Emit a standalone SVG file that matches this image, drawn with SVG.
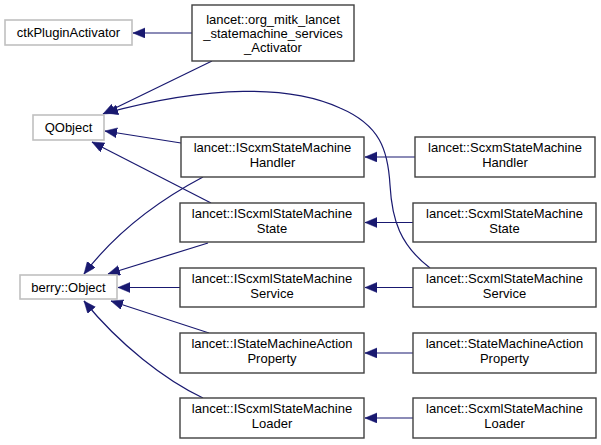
<svg xmlns="http://www.w3.org/2000/svg" width="601" height="445" viewBox="0 0 601 445">
<style>
.n rect{fill:#fff;stroke:#404040;stroke-width:1.4}
.g rect{fill:#fff;stroke:#c0c0c0;stroke-width:1.6}
text{font-family:"Liberation Sans",Arial,sans-serif;font-size:13px;fill:#000;text-anchor:middle}
.e path{fill:none;stroke:#191970;stroke-width:1.2;marker-end:url(#a)}
</style>
<defs>
<marker id="a" markerUnits="userSpaceOnUse" markerWidth="14" markerHeight="12" viewBox="0 0 14 12" refX="12" refY="5" orient="auto">
<path d="M0,0 L12,5 L0,10 z" fill="#191970" stroke="#191970" stroke-width="0.5"/>
</marker>
</defs>
<rect width="601" height="445" fill="#fff"/>
<g class="e" id="edges">
<path d="M192,33 L133,33"/>
<path d="M212,61 L103,114"/>
<path d="M430,268 C400,245 392,220 390,185 C388,150 380,125 340,108 C290,85 210,85 106,113"/>
<path d="M181,143 L105,131"/>
<path d="M211,203 L92,142"/>
<path d="M203,177 C150,205 110,240 84,274"/>
<path d="M208,243 L108,274"/>
<path d="M180,287.5 L118,287.5"/>
<path d="M209,333 L111,301"/>
<path d="M203,398 C165,380 120,345 84,301"/>
<path d="M415,157 L365,157"/>
<path d="M413,222.5 L365,222.5"/>
<path d="M413,287.5 L365,287.5"/>
<path d="M413,353 L365,353"/>
<path d="M413,418 L365,418"/>
</g>
<g id="ctkPluginActivator" class="g"><rect x="5" y="20" width="127" height="25"/><text x="68.5" y="37">ctkPluginActivator</text></g>
<g id="Activator" class="n"><rect x="192" y="5" width="162" height="56"/><text x="273" y="24">lancet::org_mitk_lancet</text><text x="273" y="38">_statemachine_services</text><text x="273" y="52">_Activator</text></g>
<g id="QObject" class="g"><rect x="33" y="115" width="71" height="25"/><text x="68.5" y="132">QObject</text></g>
<g id="berryObject" class="g"><rect x="20" y="275" width="97" height="24"/><text x="68.5" y="292">berry::Object</text></g>
<g id="IScxmStateMachineHandler" class="n"><rect x="181" y="137" width="183" height="40"/><text x="272.5" y="152">lancet::IScxmStateMachine</text><text x="272.5" y="167">Handler</text></g>
<g id="ScxmStateMachineHandler" class="n"><rect x="415" y="137" width="180" height="40"/><text x="505" y="152">lancet::ScxmStateMachine</text><text x="505" y="167">Handler</text></g>
<g id="IScxmlStateMachineState" class="n"><rect x="180" y="203" width="184" height="39"/><text x="272" y="218">lancet::IScxmlStateMachine</text><text x="272" y="233">State</text></g>
<g id="ScxmlStateMachineState" class="n"><rect x="413" y="203" width="183" height="39"/><text x="504.5" y="218">lancet::ScxmlStateMachine</text><text x="504.5" y="233">State</text></g>
<g id="IScxmlStateMachineService" class="n"><rect x="180" y="268" width="184" height="39"/><text x="272" y="283">lancet::IScxmlStateMachine</text><text x="272" y="298">Service</text></g>
<g id="ScxmlStateMachineService" class="n"><rect x="413" y="268" width="183" height="39"/><text x="504.5" y="283">lancet::ScxmlStateMachine</text><text x="504.5" y="298">Service</text></g>
<g id="IStateMachineActionProperty" class="n"><rect x="180" y="333" width="184" height="40"/><text x="272" y="348">lancet::IStateMachineAction</text><text x="272" y="363">Property</text></g>
<g id="StateMachineActionProperty" class="n"><rect x="413" y="333" width="183" height="40"/><text x="504.5" y="348">lancet::StateMachineAction</text><text x="504.5" y="363">Property</text></g>
<g id="IScxmlStateMachineLoader" class="n"><rect x="180" y="398" width="184" height="40"/><text x="272" y="413">lancet::IScxmlStateMachine</text><text x="272" y="428">Loader</text></g>
<g id="ScxmlStateMachineLoader" class="n"><rect x="413" y="398" width="183" height="40"/><text x="504.5" y="413">lancet::ScxmlStateMachine</text><text x="504.5" y="428">Loader</text></g>
</svg>
